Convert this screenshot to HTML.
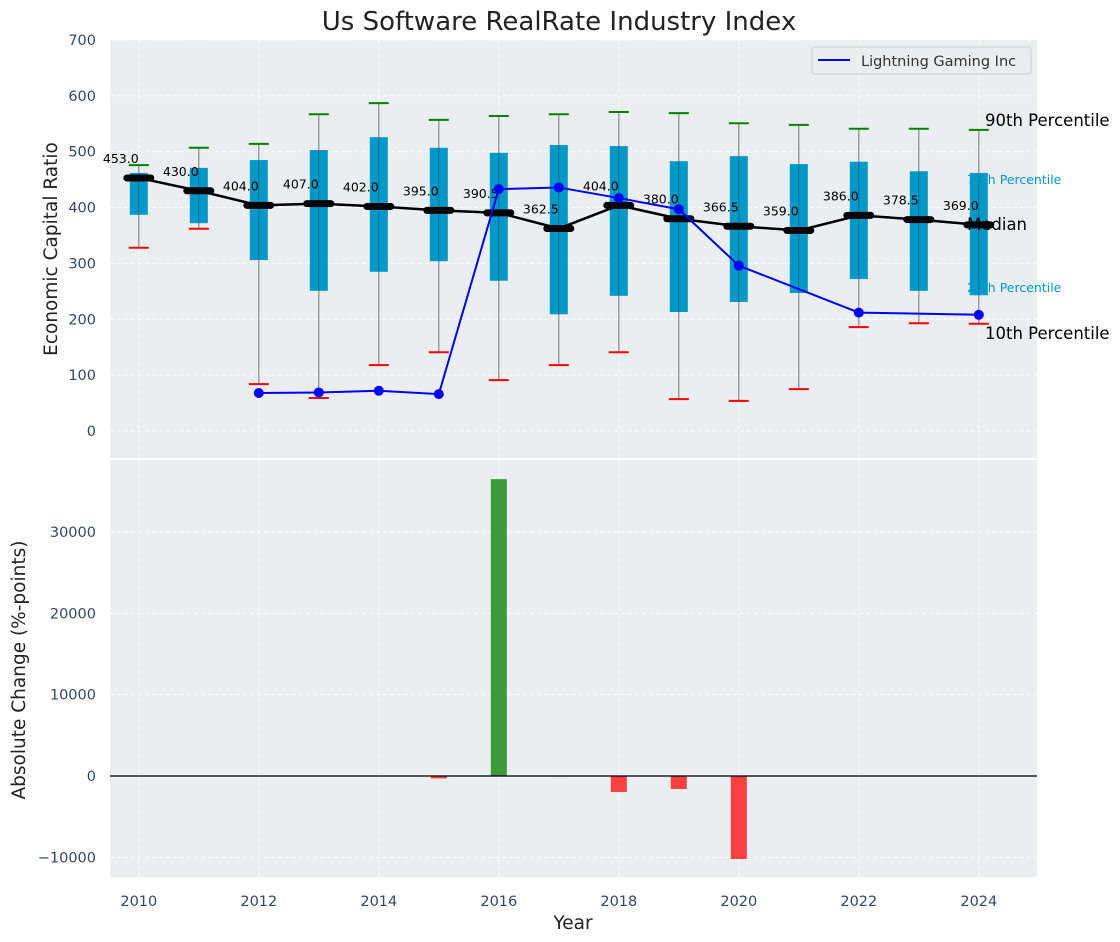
<!DOCTYPE html>
<html><head><meta charset="utf-8">
<style>
body{margin:0;background:#fff;}
svg{display:block;font-family:"DejaVu Sans","Liberation Sans",sans-serif;}
</style></head>
<body>
<svg id="chart" width="1120" height="942" xmlns="http://www.w3.org/2000/svg"></svg>
<script>
const years=[2010,2011,2012,2013,2014,2015,2016,2017,2018,2019,2020,2021,2022,2023,2024];
const p90=[476,507,514,567,587,557,564,567,571,569,551,548,541,541,539];
const q3=[462,471,485,503,526,507,498,512,510,483,492,478,482,465,462];
const median=[453,430,404,407,402,395,390.5,362.5,404,380,366.5,359,386,378.5,369];
const q1=[387,372,306,251,285,304,269,209,242,213,231,247,272,251,243];
const p10=[328,362,84,59,118,141,91,118,141,57,54,75,186,193,192];
const company=[null,null,68,69,72,66,433,436,417,397,296,null,212,null,208];
const changeYears=[2014,2015,2016,2017,2018,2019,2020];
const changes=[60,-300,36500,50,-1970,-1600,-10200];
const yTicksTop=[0,100,200,300,400,500,600,700];
const yTicksBot=[-10000,0,10000,20000,30000];
const xTicks=[2010,2012,2014,2016,2018,2020,2022,2024];

const NS="http://www.w3.org/2000/svg";
const svg=document.getElementById('chart');
function mk(tag,attrs,parent,text){const e=document.createElementNS(NS,tag);for(const k in attrs)e.setAttribute(k,attrs[k]);if(text!==undefined)e.textContent=text;(parent||svg).appendChild(e);return e;}
const X0=110,X1=1037;
const x=v=>X0+(v-2009.52)/(2024.97-2009.52)*(X1-X0);
const T0=40,T1=458;
const yT=v=>431-v*0.5586;
const B0=460,B1=877;
const yB=v=>776-v*0.008133;
const tickCol="#34495e";

let e=mk('rect',{x:X0,y:T0,width:X1-X0,height:T1-T0,fill:"#eaeef0"});

e=mk('rect',{x:X0,y:B0,width:X1-X0,height:B1-B0,fill:"#eaeef0"});


xTicks.forEach(t=>{
 mk('line',{x1:x(t),x2:x(t),y1:T0,y2:T1,stroke:"#fff","stroke-dasharray":"4,3","stroke-width":1});
 mk('line',{x1:x(t),x2:x(t),y1:B0,y2:B1,stroke:"#fff","stroke-dasharray":"4,3","stroke-width":1});
 e=mk('text',{x:x(t),y:906,"text-anchor":"middle","font-size":14.5,fill:tickCol},null,t);
 
});
yTicksTop.forEach(t=>{
 mk('line',{x1:X0,x2:X1,y1:yT(t),y2:yT(t),stroke:"#fff","stroke-dasharray":"4,3","stroke-width":1});
 e=mk('text',{x:96,y:yT(t)+5,"text-anchor":"end","font-size":14.5,fill:tickCol},null,t);
 
});
yTicksBot.forEach(t=>{
 mk('line',{x1:X0,x2:X1,y1:yB(t),y2:yB(t),stroke:"#fff","stroke-dasharray":"4,3","stroke-width":1});
 e=mk('text',{x:96,y:yB(t)+5,"text-anchor":"end","font-size":14.5,fill:tickCol},null,t<0?"\u2212"+Math.abs(t):t);
 
});

years.forEach((yr,i)=>{
 const cx=x(yr);
 e=mk('line',{x1:cx,x2:cx,y1:yT(p90[i]),y2:yT(p10[i]),stroke:"#888","stroke-width":1.2});
 
 e=mk('rect',{x:cx-9,y:yT(q3[i]),width:18,height:yT(q1[i])-yT(q3[i]),fill:"#0099c8"});
 
 mk('line',{x1:cx,x2:cx,y1:yT(q3[i]),y2:yT(q1[i]),stroke:"#0b6f8f","stroke-width":1});
 e=mk('line',{x1:cx-10,x2:cx+10,y1:yT(p90[i]),y2:yT(p90[i]),stroke:"green","stroke-width":2});
 
 e=mk('line',{x1:cx-10,x2:cx+10,y1:yT(p10[i]),y2:yT(p10[i]),stroke:"red","stroke-width":2});
 
});
e=mk('polyline',{points:years.map((yr,i)=>x(yr)+","+yT(median[i])).join(" "),fill:"none",stroke:"#000","stroke-width":2.5});

years.forEach((yr,i)=>{
 const cx=x(yr),cy=yT(median[i]);
 e=mk('line',{x1:cx-12,x2:cx+12,y1:cy,y2:cy,stroke:"#000","stroke-width":7,"stroke-linecap":"round"});
 
 e=mk('text',{x:cx-18,y:cy-15,"text-anchor":"middle","font-size":12.5,fill:"#000"},null,median[i].toFixed(1));
 
});
const pts=years.map((yr,i)=>company[i]==null?null:[x(yr),yT(company[i])]).filter(p=>p);
e=mk('polyline',{points:pts.map(p=>p.join(",")).join(" "),fill:"none",stroke:"#0000ff","stroke-width":2});

pts.forEach(p=>{e=mk('circle',{cx:p[0],cy:p[1],r:5,fill:"#0000ff"});
 });

const ann=[["90th Percentile",985,126,16.5,"#000"],["75th Percentile",967,184,12.5,"#0099c8"],["Median",967,230,16.5,"#000"],["25th Percentile",967,292,12.5,"#0099c8"],["10th Percentile",985,339,16.5,"#000"]];
ann.forEach(a=>{e=mk('text',{x:a[1],y:a[2],"font-size":a[3],fill:a[4]},null,a[0]);
 });

e=mk('g',{});
mk('rect',{x:812,y:47,width:219,height:27,rx:3,fill:"#eaeef0",stroke:"#ccc"},e);
mk('line',{x1:818,x2:850,y1:60,y2:60,stroke:"#0000ff","stroke-width":2},e);
mk('text',{x:861,y:66,"font-size":14.5,fill:"#333"},e,"Lightning Gaming Inc");

changeYears.forEach((yr,i)=>{
 const v=changes[i];const y0=yB(0),y1=yB(v);
 e=mk('rect',{x:x(yr)-8,y:Math.min(y0,y1),width:16,height:Math.max(1,Math.abs(y1-y0)),fill:v>=0?"#3a9b3a":"#ff4040"});
 
});
mk('line',{x1:X0,x2:X1,y1:yB(0),y2:yB(0),stroke:"#000","stroke-width":1.2});

e=mk('text',{x:559,y:30,"text-anchor":"middle","font-size":26,fill:"#222"},null,"Us Software RealRate Industry Index");

e=mk('text',{x:573,y:929,"text-anchor":"middle","font-size":18.5,fill:"#222"},null,"Year");

e=mk('text',{x:0,y:0,"text-anchor":"middle","font-size":18.5,fill:"#222",transform:"translate(57,249) rotate(-90)"},null,"Economic Capital Ratio");

e=mk('text',{x:0,y:0,"text-anchor":"middle","font-size":18.5,fill:"#222",transform:"translate(25,670) rotate(-90)"},null,"Absolute Change (%-points)");

</script>
</body></html>
